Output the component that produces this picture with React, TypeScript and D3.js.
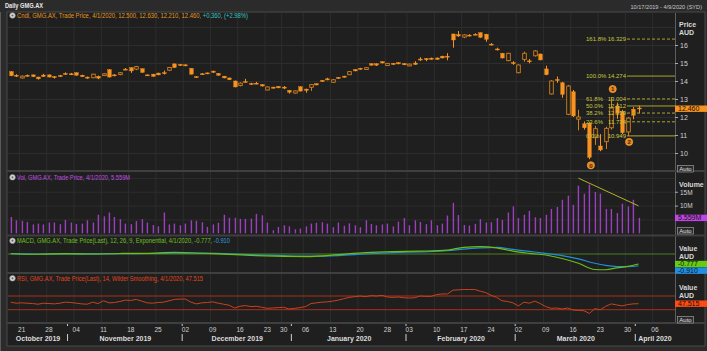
import React from 'react';
import * as d3 from 'd3';

// ASX trading calendar for the visible range
const FIRST_DAY = '2019-10-17';
const LAST_DAY = '2020-04-09';
const HOLIDAYS = ['2019-12-25', '2019-12-26', '2020-01-01', '2020-01-27', '2020-04-10'];
const MONTHS = ['January', 'February', 'March', 'April', 'May', 'June', 'July', 'August', 'September', 'October', 'November', 'December'];

// daily candles, GMG.AX (first 116 trading days from 10/17/2019)
const openP = [
  14.52, 14.32, 14.17, 14.32, 14.34, 14.22, 14.33, 14.34, 14.24, 14.30,
  14.42, 14.40, 14.46, 14.32, 14.22, 14.18, 14.26, 14.30, 14.63, 14.34,
  14.36, 14.66, 14.74, 14.66, 14.68, 14.34, 14.38, 14.44, 14.46, 14.60,
  14.95, 14.92, 14.90, 14.70, 14.24, 14.40, 14.45, 14.55, 14.42, 14.27,
  14.17, 14.00, 13.75, 13.97, 13.86, 13.88, 13.80, 13.50, 13.66, 13.70,
  13.66, 13.48, 13.33, 13.68, 13.55, 13.65, 13.85, 14.03, 14.12, 13.93,
  14.20, 14.27, 14.35, 14.64, 14.71, 14.64, 14.96, 14.96, 15.07, 14.86,
  14.98, 15.02, 14.97, 14.84, 15.00, 15.22, 15.25, 15.27, 15.28, 15.38,
  15.38, 16.61, 16.58, 16.44, 16.55, 16.60, 16.68, 16.60, 16.05, 15.78,
  15.54, 15.13, 15.02, 14.46, 15.20, 15.12, 15.40, 15.50, 14.67, 13.28,
  14.08, 13.90, 12.15, 13.40, 11.88, 11.62, 11.65, 10.85, 10.39, 10.63,
  11.40, 12.60, 12.30, 11.17, 12.43, 12.50,
];
const highP = [
  14.55, 14.38, 14.30, 14.36, 14.36, 14.24, 14.40, 14.36, 14.28, 14.34,
  14.48, 14.45, 14.48, 14.35, 14.24, 14.40, 14.30, 14.44, 14.65, 14.38,
  14.50, 14.72, 14.76, 14.84, 14.70, 14.36, 14.40, 14.46, 14.58, 14.78,
  14.97, 14.94, 14.92, 14.72, 14.26, 14.44, 14.47, 14.57, 14.44, 14.28,
  14.18, 14.02, 13.92, 14.12, 13.90, 13.95, 13.82, 13.70, 13.68, 13.72,
  13.72, 13.50, 13.48, 13.70, 13.57, 13.82, 13.87, 14.05, 14.18, 14.10,
  14.22, 14.29, 14.55, 14.66, 14.73, 14.76, 14.98, 14.98, 15.10, 15.00,
  15.00, 15.04, 14.99, 14.96, 15.10, 15.32, 15.27, 15.30, 15.30, 15.40,
  15.55, 16.63, 16.78, 16.60, 16.60, 16.65, 16.70, 16.62, 16.10, 15.85,
  15.56, 15.56, 15.10, 14.92, 15.63, 15.22, 15.72, 15.52, 14.85, 14.05,
  14.25, 13.95, 13.78, 13.50, 12.40, 11.75, 11.72, 11.50, 11.05, 11.46,
  13.10, 12.80, 12.40, 12.00, 12.55, 12.63,
];
const lowP = [
  14.27, 14.22, 14.13, 14.24, 14.22, 14.08, 14.22, 14.20, 14.14, 14.22,
  14.34, 14.33, 14.30, 14.22, 14.12, 14.16, 14.10, 14.28, 14.20, 14.26,
  14.32, 14.60, 14.45, 14.60, 14.46, 14.28, 14.24, 14.32, 14.36, 14.55,
  14.72, 14.84, 14.82, 14.36, 14.18, 14.36, 14.38, 14.46, 14.30, 14.15,
  14.05, 13.65, 13.70, 13.92, 13.80, 13.82, 13.70, 13.48, 13.58, 13.60,
  13.55, 13.30, 13.30, 13.42, 13.35, 13.45, 13.76, 13.95, 14.04, 13.90,
  14.12, 14.19, 14.33, 14.54, 14.63, 14.62, 14.86, 14.84, 14.98, 14.84,
  14.90, 14.93, 14.88, 14.82, 14.90, 15.12, 15.10, 15.18, 15.18, 15.26,
  15.15, 15.85, 16.45, 16.38, 16.48, 16.55, 16.40, 16.18, 15.98, 15.70,
  15.25, 15.10, 14.90, 14.42, 15.07, 14.98, 15.36, 15.15, 14.32, 13.25,
  13.90, 13.07, 12.10, 12.00, 11.26, 11.30, 9.65, 10.45, 10.10, 10.22,
  11.30, 11.90, 11.05, 10.949, 11.87, 12.21,
];
const closeP = [
  14.29, 14.27, 14.27, 14.26, 14.24, 14.12, 14.25, 14.22, 14.20, 14.26,
  14.38, 14.38, 14.32, 14.24, 14.16, 14.38, 14.16, 14.40, 14.22, 14.30,
  14.46, 14.64, 14.56, 14.80, 14.48, 14.30, 14.26, 14.34, 14.44, 14.75,
  14.75, 14.86, 14.84, 14.38, 14.20, 14.38, 14.40, 14.48, 14.32, 14.17,
  14.07, 13.67, 13.88, 13.95, 13.84, 13.86, 13.72, 13.67, 13.60, 13.62,
  13.64, 13.38, 13.45, 13.44, 13.48, 13.80, 13.78, 13.97, 14.06, 14.07,
  14.14, 14.21, 14.52, 14.56, 14.65, 14.74, 14.88, 14.88, 15.00, 14.98,
  14.92, 14.95, 14.90, 14.94, 14.92, 15.20, 15.18, 15.20, 15.20, 15.28,
  15.36, 16.28, 16.50, 16.56, 16.53, 16.58, 16.43, 16.32, 16.03, 15.76,
  15.28, 15.54, 15.00, 14.89, 15.54, 15.10, 15.67, 15.17, 14.35, 14.00,
  14.05, 13.26, 13.72, 12.06, 12.00, 11.40, 9.76, 11.35, 10.17, 11.37,
  12.50, 12.20, 11.13, 11.94, 12.10, 12.46,
];

// volume, millions of shares
const volumeM = [
  5.9, 4.7, 4.5, 4.1, 3.2, 3.5, 3.2, 3.9, 3.9, 3.3,
  4.8, 3.9, 3.4, 3.5, 4.7, 3.9, 6.7, 6.1, 7.5, 5.9,
  5.1, 3.5, 3.3, 4.4, 5.1, 3.9, 3.0, 2.5, 7.5, 3.2,
  3.5, 2.9, 3.5, 4.7, 4.5, 4.0, 2.3, 3.2, 3.8, 6.7,
  5.6, 5.6, 5.2, 5.2, 5.3, 7.0, 6.5, 3.9, 1.1, 2.3,
  2.9, 2.5, 1.45, 1.7, 2.5, 3.5, 3.8, 4.0, 3.5, 2.2,
  3.9, 2.7, 3.6, 2.9, 2.2, 4.7, 3.4, 2.9, 3.2, 3.5,
  2.5, 4.2, 5.5, 2.9, 4.7, 4.1, 3.3, 4.7, 2.9, 3.5,
  6.4, 11.0, 6.6, 3.0, 2.8, 3.4, 5.1, 3.9, 4.0, 5.5,
  4.8, 7.5, 9.7, 5.5, 6.7, 8.1, 5.8, 5.5, 6.7, 8.8,
  9.5, 12.1, 13.6, 10.3, 17.2, 14.3, 17.6, 14.9, 14.3, 8.8,
  8.8, 7.3, 10.7, 9.7, 12.1, 5.559,
];

// RSI(14), daily
const rsi = [
  52, 49, 50, 49, 48, 46, 49, 48, 47, 49,
  52, 51, 49, 47, 46, 52, 48, 56, 50, 51,
  54, 58, 57, 60, 55, 50, 49, 51, 52, 56,
  60, 61, 61, 52, 47, 50, 51, 53, 49, 46,
  43, 35, 40, 42, 39, 40, 37, 34, 35, 36,
  37, 32, 34, 36, 39, 48, 50, 52, 53, 55,
  58, 62, 66, 68, 70, 68, 71, 70, 72, 67,
  66, 67, 65, 64, 65, 70, 69, 69, 74, 76,
  76, 87, 88, 89, 89, 89, 84, 80, 72, 66,
  56, 54, 50, 41, 52, 49, 55, 48, 39, 34,
  35, 32, 35, 29, 28, 27, 19, 33, 30, 40,
  47, 44, 41, 45, 47, 47.515,
];

// MACD(12,26,9) read weekly
const macdDates = [
  '2019-10-17', '2019-10-24', '2019-10-31', '2019-11-07', '2019-11-14', '2019-11-21', '2019-11-28',
  '2019-12-05', '2019-12-12', '2019-12-19', '2019-12-30', '2020-01-07', '2020-01-14', '2020-01-21',
  '2020-01-29', '2020-02-05', '2020-02-12', '2020-02-17', '2020-02-20', '2020-02-25', '2020-02-28',
  '2020-03-04', '2020-03-09', '2020-03-12', '2020-03-17', '2020-03-20', '2020-03-24', '2020-03-26',
  '2020-03-30', '2020-04-01',
];
const macdLine = [
  0.02, -0.02, 0.03, 0.0, 0.04, 0.05, 0.12, 0.06, -0.03, -0.12, -0.18, -0.2, -0.05, 0.1,
  0.18, 0.22, 0.3, 0.52, 0.57, 0.48, 0.22, 0.05, -0.08, -0.35, -0.72, -1.2, -1.22, -1.08,
  -0.96, -0.777,
];
const macdSignal = [
  0.03, 0.0, 0.01, 0.01, 0.02, 0.04, 0.07, 0.07, 0.02, -0.06, -0.13, -0.17, -0.12, 0.0,
  0.1, 0.17, 0.25, 0.38, 0.47, 0.52, 0.36, 0.2, 0.05, -0.12, -0.38, -0.72, -0.88, -0.97,
  -0.98, -0.91,
];

// fibonacci extension drawn on the chart
const fibPct = ['161.8%', '100.0%', '61.8%', '50.0%', '38.2%', '23.6%', '0.0%'];
const fibValue = [16.329, 14.274, 13.004, 12.612, 12.219, 11.734, 10.949];
const fibDashed = [true, false, true, false, true, true, false];
const fibPointDates = ['2020-03-19', '2020-03-25', '2020-03-30'];
const fibPointPrice = [9.65, 13.22, 10.949];

// hand drawn trend line on volume
const volTrendDates = ['2020-03-17', '2020-04-01'];
const volTrendM = [19.9, 9.9];

const priceTicks = [10, 11, 12, 13, 14, 15, 16];
const volTicks = [10, 15];

const ORANGE = '#f7931e';
const FONT = "'Liberation Sans', Arial, sans-serif";

function tradingDays(from: string, to: string) {
  const out: string[] = [];
  const d = new Date(from + 'T00:00:00Z');
  const end = new Date(to + 'T00:00:00Z');
  while (d <= end) {
    const wd = d.getUTCDay();
    const key = d.toISOString().slice(0, 10);
    if (wd !== 0 && wd !== 6 && !HOLIDAYS.includes(key)) out.push(key);
    d.setUTCDate(d.getUTCDate() + 1);
  }
  return out;
}

const dow = (s: string) => new Date(s + 'T00:00:00Z').getUTCDay();

// two-colour text fill: colour a up to xSplit, colour b after it
const SplitFill = ({ id, x0, x1, xSplit, a, b }: { id: string; x0: number; x1: number; xSplit: number; a: string; b: string }) => {
  const off = (xSplit - x0) / (x1 - x0);
  return (
    <linearGradient id={id} gradientUnits="userSpaceOnUse" x1={x0} x2={x1} y1={0} y2={0}>
      <stop offset={off} stopColor={a} />
      <stop offset={off} stopColor={b} />
    </linearGradient>
  );
};

export default function App() {
  const days = tradingDays(FIRST_DAY, LAST_DAY);
  const L = 8, R = 674, AX = 675;

  const x = d3.scaleBand<string>().domain(days).range([L, R]);
  const bw = x.bandwidth();
  const cx = (d: string) => (x(d) ?? 0) + bw / 2;

  const yP = d3.scaleLinear().domain([10, 16]).range([153, 45]);
  const yV = d3.scaleLinear().domain([0, 10]).range([233.3, 205.6]);
  const yM = d3.scaleLinear().domain([0, -1]).range([254, 266.9]);
  const yR = d3.scaleLinear().domain([30, 70]).range([309.7, 296]);

  const candles = openP.map((o, i) => ({ d: days[i], o, h: highP[i], l: lowP[i], c: closeP[i] }));

  const weekStarts = days.filter((d, i) => i > 0 && dow(d) <= dow(days[i - 1]));
  const monthStartIdx = days.map((d, i) => i).filter(i => i === 0 || days[i].slice(0, 7) !== days[i - 1].slice(0, 7));
  const months = monthStartIdx.map((si, k) => {
    const x0 = k === 0 ? L : (x(days[si]) ?? 0);
    const x1 = k === monthStartIdx.length - 1 ? R : (x(days[monthStartIdx[k + 1]]) ?? 0);
    const d = days[si];
    return { x0, x1, label: `${MONTHS[+d.slice(5, 7) - 1]} ${d.slice(0, 4)}` };
  });

  const macdPts = macdDates.map((d, i) => ({ d, m: macdLine[i], s: macdSignal[i] }));
  const lineM = d3.line<any>().x(p => cx(p.d)).y(p => yM(p.m)).curve(d3.curveMonotoneX);
  const lineS = d3.line<any>().x(p => cx(p.d)).y(p => yM(p.s)).curve(d3.curveMonotoneX);
  const lineR = d3.line<number>().x((v, i) => cx(days[i])).y(v => yR(v));

  const last = candles.length - 1;
  const chg = closeP[last] - closeP[last - 1];
  const pct = (chg / closeP[last - 1]) * 100;
  const f3 = (v: number) => v.toFixed(3);
  const macdLast = macdLine[macdLine.length - 1];
  const sigLast = macdSignal[macdSignal.length - 1];

  const panels = [
    { y0: 13, y1: 171 },
    { y0: 172, y1: 235 },
    { y0: 236, y1: 273 },
    { y0: 274, y1: 323 },
  ];

  const icon = (yy: number) => (
    <g>
      <circle cx={12.5} cy={yy} r={2.8} fill="#d8d8d8" stroke="#8a8a8a" strokeWidth={0.6} />
      <circle cx={12.5} cy={yy} r={1.1} fill="#6a6a6a" />
    </g>
  );

  const axisLabel = (txt: string, yy: number) => (
    <text x={679} y={yy} fontSize={7} fill="#d8d8d8" fontWeight="bold">{txt}</text>
  );

  const valueBox = (txt: string, yy: number, fill: string, color = '#111') => (
    <g>
      <rect x={AX} y={yy - 3.2} width={32} height={6.4} fill={fill} />
      <text x={678} y={yy + 2.4} fontSize={7} fill={color}>{txt}</text>
    </g>
  );

  const autoBtn = (yy: number) => (
    <g>
      <rect x={677.5} y={yy} width={16} height={6.5} fill="#2a2a2a" stroke="#9a9a9a" strokeWidth={0.7} />
      <text x={685.5} y={yy + 5.3} fontSize={6} fill="#e0e0e0" textAnchor="middle">Auto</text>
    </g>
  );

  return (
    <svg width={707} height={351} style={{ position: 'fixed', left: 0, top: 0, display: 'block' }} fontFamily={FONT}>
      <defs>
        <SplitFill id="cndlFill" x0={17} x1={248} xSplit={200} a={ORANGE} b="#35c6c6" />
        <SplitFill id="macdFill" x0={17} x1={230} xSplit={213} a="#6ec41a" b="#2a9ce8" />
      </defs>
      <rect width={707} height={351} fill="#2b2b2b" />
      <rect x={7} y={12} width={698} height={334} fill="#1f1f1f" stroke="#4a4a4a" strokeWidth={1} />
      <line x1={0.5} x2={0.5} y1={12} y2={351} stroke="#5a5a5a" />

      {/* title bar */}
      <text x={5} y={8} fontSize={7} fontWeight="bold" fill="#e8e8e8" textLength={38} lengthAdjust="spacingAndGlyphs">Daily GMG.AX</text>
      <text x={702} y={8.5} fontSize={5.6} fill="#c8c8c8" textAnchor="end">10/17/2019 - 4/9/2020 (SYD)</text>

      {/* vertical week grid */}
      {panels.map((p, k) => (
        <g key={k}>
          {weekStarts.map(d => (
            <line key={d} x1={x(d)! + 0.5} x2={x(d)! + 0.5} y1={p.y0} y2={p.y1} stroke="#2d2d2d" />
          ))}
          <line x1={AX + 0.5} x2={AX + 0.5} y1={p.y0} y2={p.y1} stroke="#5e5e5e" />
        </g>
      ))}

      {/* horizontal grid */}
      {[9, 10, 11, 12, 13, 14, 15, 16, 17].map(v => (
        <line key={v} x1={L} x2={AX} y1={yP(v) + 0.5} y2={yP(v) + 0.5} stroke="#2d2d2d" />
      ))}
      {[5, 10, 15, 20].map(v => (
        <line key={v} x1={L} x2={AX} y1={yV(v) + 0.5} y2={yV(v) + 0.5} stroke="#2d2d2d" />
      ))}

      {/* panel separators */}
      {[171, 235.5, 273, 323].map(yy => (
        <line key={yy} x1={7} x2={705} y1={yy} y2={yy} stroke="#3f3f3f" strokeWidth={2} />
      ))}

      {/* ---------- price panel ---------- */}
      {icon(15.5)}
      <text x={17} y={18} fontSize={7} fill="url(#cndlFill)" textLength={231} lengthAdjust="spacingAndGlyphs">
        {`Cndl, GMG.AX, Trade Price, 4/1/2020, ${f3(openP[last])}, ${f3(highP[last])}, ${f3(lowP[last])}, ${f3(closeP[last])}, +${f3(chg)}, (+${pct.toFixed(2)}%)`}
      </text>

      {candles.map(k => {
        const up = k.c >= k.o;
        const top = yP(Math.max(k.o, k.c));
        const bot = yP(Math.min(k.o, k.c));
        const xc = Math.round(cx(k.d)) + 0.5;
        const col = up ? '#d2801c' : ORANGE;
        return (
          <g key={k.d}>
            <line x1={xc} x2={xc} y1={yP(k.h)} y2={yP(k.l)} stroke={col} strokeWidth={1} />
            <rect x={xc - 1.8} y={top} width={3.6} height={Math.max(bot - top, 1)}
              fill={up ? '#1f1f1f' : ORANGE} stroke={col} strokeWidth={up ? 0.9 : 0.4} />
          </g>
        );
      })}

      {/* fibonacci levels */}
      {fibValue.map((v, i) => (
        <g key={v}>
          <line x1={627} x2={AX} y1={yP(v)} y2={yP(v)} stroke="#aaa52a" strokeWidth={1}
            strokeDasharray={fibDashed[i] ? '3,2' : undefined} />
          <text x={586} y={yP(v) + 2.2} fontSize={6} fill="#c9c740">{fibPct[i]}</text>
          <text x={626} y={yP(v) + 2.2} fontSize={6} fill="#c9c740" textAnchor="end">{f3(v)}</text>
        </g>
      ))}
      {fibPointDates.map((d, i) => {
        const yy = yP(fibPointPrice[i]) + (i === 1 ? -6 : 6);
        return (
          <g key={d}>
            <circle cx={cx(d) + 1.5} cy={yy} r={3.6} fill="#e8861a" stroke="#ffb050" strokeWidth={0.6} />
            <text x={cx(d) + 1.5} y={yy + 2.2} fontSize={6} fontWeight="bold" fill="#4a2600" textAnchor="middle">{i}</text>
          </g>
        );
      })}

      {axisLabel('Price', 27)}
      {axisLabel('AUD', 35)}
      {priceTicks.map(v => (
        <g key={v}>
          <line x1={AX} x2={AX + 3} y1={yP(v) + 0.5} y2={yP(v) + 0.5} stroke="#aaa" />
          <text x={680} y={yP(v) + 2.5} fontSize={7} fill="#d0d0d0">{v}</text>
        </g>
      ))}
      {valueBox(f3(closeP[last]), yP(closeP[last]), ORANGE)}
      {autoBtn(165.5)}

      {/* ---------- volume panel ---------- */}
      {icon(177.3)}
      <text x={17} y={179.8} fontSize={7} fill="#c04ee0" textLength={113} lengthAdjust="spacingAndGlyphs">
        {`Vol, GMG.AX, Trade Price, 4/1/2020, ${volumeM[last].toFixed(3)}M`}
      </text>
      {volumeM.map((v, i) => (
        <rect key={i} x={Math.round(cx(days[i])) - 0.3} y={yV(v)} width={1.4} height={yV(0) - yV(v)} fill="#9b3fc0" />
      ))}
      <line x1={cx(volTrendDates[0])} y1={yV(volTrendM[0])} x2={cx(volTrendDates[1])} y2={yV(volTrendM[1])}
        stroke="#b4b02c" strokeWidth={1} />
      {axisLabel('Volume', 186.5)}
      {volTicks.map(v => (
        <g key={v}>
          <line x1={AX} x2={AX + 3} y1={yV(v) + 0.5} y2={yV(v) + 0.5} stroke="#aaa" />
          <text x={680} y={yV(v) + 2.8} fontSize={6.5} fill="#d0d0d0">{`${v}M`}</text>
        </g>
      ))}
      {valueBox(`${volumeM[last].toFixed(3)}M`, yV(volumeM[last]), '#c145e6')}
      {autoBtn(227.5)}

      {/* ---------- MACD panel ---------- */}
      {icon(240.7)}
      <text x={17} y={243.2} fontSize={7} fill="url(#macdFill)" textLength={213} lengthAdjust="spacingAndGlyphs">
        {`MACD, GMG.AX, Trade Price(Last),  12, 26, 9, Exponential, 4/1/2020, ${f3(macdLast)}, ${f3(sigLast)}`}
      </text>
      <line x1={L} x2={AX} y1={yM(0)} y2={yM(0)} stroke="#4e7f18" strokeWidth={1} />
      <path d={lineS(macdPts) ?? ''} fill="none" stroke="#1f8fd8" strokeWidth={1.2} />
      <path d={lineM(macdPts) ?? ''} fill="none" stroke="#6cbd14" strokeWidth={1.2} />
      {axisLabel('Value', 250.5)}
      {axisLabel('AUD', 258.5)}
      {valueBox(f3(macdLast), yM(macdLast), '#66cc0f')}
      {valueBox(f3(sigLast), yM(macdLast) + 6.6, '#1e90e6')}

      {/* ---------- RSI panel ---------- */}
      {icon(278.3)}
      <text x={17} y={280.8} fontSize={7} fill="#e0461c" textLength={186} lengthAdjust="spacingAndGlyphs">
        {`RSI, GMG.AX, Trade Price(Last),  14, Wilder Smoothing, 4/1/2020, ${f3(rsi[last])}`}
      </text>
      {[70, 30].map(v => (
        <line key={v} x1={L} x2={AX} y1={yR(v)} y2={yR(v)} stroke="#a8301a" strokeWidth={1} />
      ))}
      <path d={lineR(rsi) ?? ''} fill="none" stroke="#c8431c" strokeWidth={1} />
      {axisLabel('Value', 289.5)}
      {axisLabel('AUD', 297.5)}
      {valueBox(f3(rsi[last]), yR(rsi[last]), '#ff4b12')}
      {autoBtn(316.5)}

      {/* ---------- date axis ---------- */}
      {weekStarts.map(d => (
        <text key={d} x={cx(d)} y={332} fontSize={6.5} fill="#cfcfcf" textAnchor="middle">{d.slice(8, 10)}</text>
      ))}
      {monthStartIdx.slice(1).map(i => (
        <g key={i}>
          <line x1={x(days[i])! - 0.5} x2={x(days[i])! - 0.5} y1={324} y2={326} stroke="#cfcfcf" />
          <line x1={x(days[i])! - 0.5} x2={x(days[i])! - 0.5} y1={334} y2={341} stroke="#cfcfcf" />
        </g>
      ))}
      {months.map(m => (
        <text key={m.label} x={(m.x0 + m.x1) / 2} y={340.5} fontSize={7} fontWeight="bold" fill="#dcdcdc" textAnchor="middle">{m.label}</text>
      ))}
    </svg>
  );
}
